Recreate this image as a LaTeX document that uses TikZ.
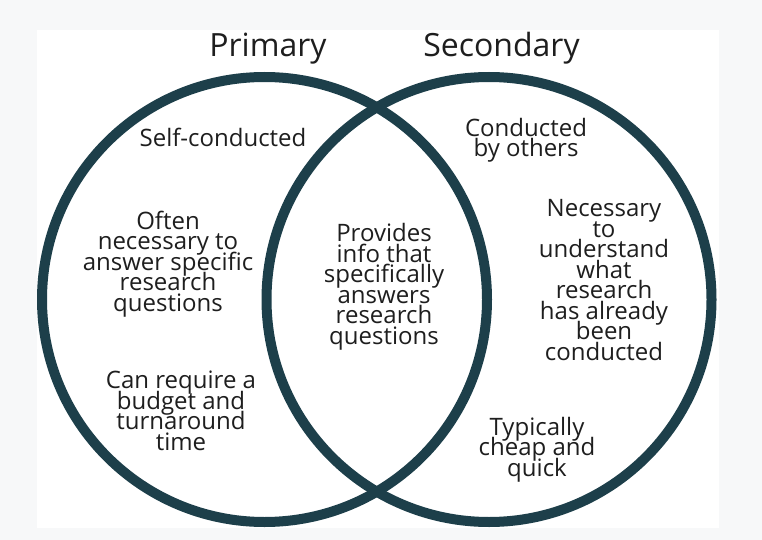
\documentclass[tikz,border=0pt]{standalone}
\usepackage{fontspec}
\setmainfont{Open Sans}
\usetikzlibrary{positioning}
\definecolor{ring}{HTML}{1D3F4A}
\definecolor{pagebg}{HTML}{F7F8F9}
\definecolor{ink}{HTML}{1E1E1E}
\tikzset{
  circ/.style ={draw=ring,line width=10pt},
  txt/.style  ={align=center,inner sep=0pt,text=ink,anchor=base,
                font={\fontsize{24}{20.5}\selectfont\lineskiplimit=-30pt}},
  ttl/.style  ={inner sep=0pt,text=ink,anchor=base,font={\fontsize{32}{36}\selectfont}},
}

\begin{document}
\begin{tikzpicture}[x=1pt,y=-1pt]
  \fill[pagebg] (0,0) rectangle (762,540);
  \fill[white] (37,30) rectangle (719,528);
  % the two sets
  \draw[circ] (264.5,299.5) circle[radius=222.5pt];
  \draw[circ] (489,299.5) circle[radius=222.5pt];
  \node[ttl] (prim) at (268,57) {Primary};
  \node[ttl] (sec) at (501.5,57) {Secondary};
  % primary only (base = last line)
  \node[txt] (selfc) at (223,147) {Self-conducted};
  \node[txt] (often) at (168,311) {Often\\ necessary to\\ answer specific\\ research\\ questions};
  \node[txt] (budget) at (181,450) {Can require a\\ budget and\\ turnaround\\ time};
  % both
  \node[txt] (provides) at (384,344) {Provides\\ info that\\ specifically\\ answers\\ research\\ questions};
  % secondary only
  \node[txt] (others) at (526,157) {Conducted\\ by others};
  \node[txt] (needed) at (604,360) {Necessary\\ to\\ understand\\ what\\ research\\ has already\\ been\\ conducted};
  \node[txt] (cheap) at (537,476) {Typically\\ cheap and\\ quick};
\end{tikzpicture}
\end{document}
